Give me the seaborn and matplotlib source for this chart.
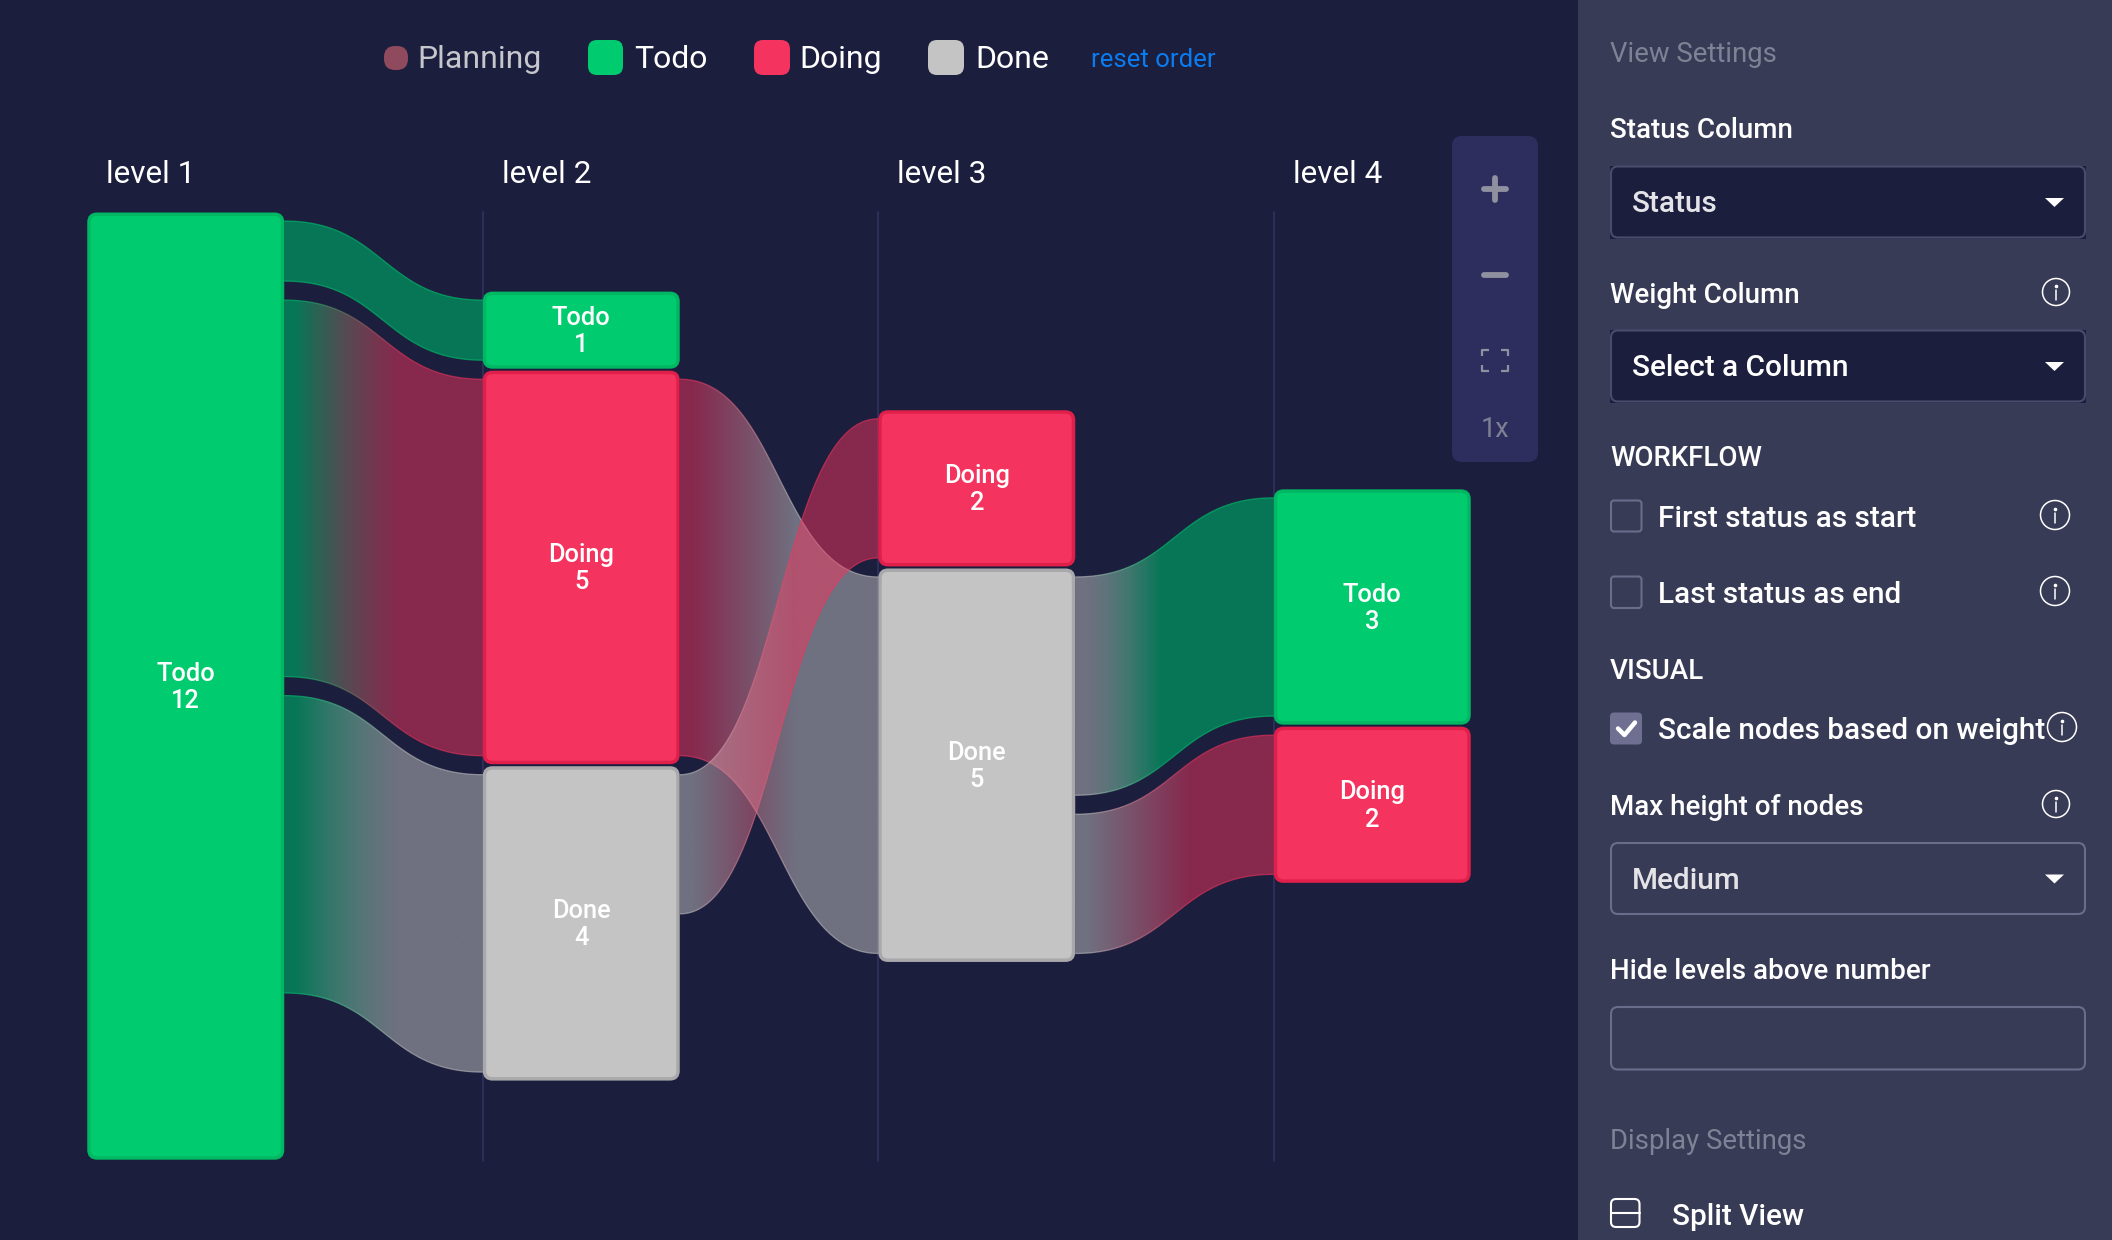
import numpy as np
import pandas as pd
import matplotlib
matplotlib.use("Agg")
import matplotlib.pyplot as plt
import seaborn as sns
from matplotlib.collections import LineCollection
from matplotlib.colors import to_rgb
from matplotlib.patches import FancyBboxPatch, PathPatch, Polygon, Rectangle, Circle
from matplotlib.path import Path

# chart values
LEVEL_NAMES = ["level 1", "level 2", "level 3", "level 4"]
LEVEL_OFFSET = [0, 1, 2.5, 3.5]
NODE_LEVEL = [1, 2, 2, 2, 3, 3, 4, 4]
NODE_STATUS = ["Todo", "Todo", "Doing", "Done", "Doing", "Done", "Todo", "Doing"]
NODE_VALUE = [12, 1, 5, 4, 2, 5, 3, 2]
LINK_SOURCE = [0, 0, 0, 2, 3, 5, 5]
LINK_TARGET = [1, 2, 3, 5, 4, 6, 7]
LINK_VALUE = [1, 5, 4, 5, 2, 3, 2]
LEGEND_ITEMS = ["Planning", "Todo", "Doing", "Done"]

STATUS_COLORS = {"Todo": "#00cc6f", "Doing": "#f4345e", "Done": "#c4c4c4"}
STATUS_EDGES = {"Todo": "#00b863", "Doing": "#e01f4a", "Done": "#a9a9ab"}
# link fill colour and opacity per status
LINK_RGB = {"Todo": (0, 149 / 255, 96 / 255), "Doing": to_rgb("#f4345e"), "Done": to_rgb("#c4c4c4")}
LINK_ALPHA = {"Todo": 0.75, "Doing": 0.5, "Done": 0.5}
GRAD_END = {"Todo": 0.43, "Doing": 0.58, "Done": 0.58}
BG = "#1c1e3d"
PANEL = "#383b55"

# pixel scale of the sankey
W, H = 2112, 1240
LEVEL_PX, UNIT_PX = 395.5, 79.1
X0_PX, Y0_PX = 185.75, 211.5
NODE_W = 197 / LEVEL_PX

sns.set_theme(style="dark")
plt.rcParams["font.family"] = ["Roboto", "DejaVu Sans"]

fig = plt.figure(figsize=(W / 100, H / 100), dpi=100, facecolor=BG)

# pixel axes for everything around the chart
ui = fig.add_axes([0, 0, 1, 1], facecolor=BG)
ui.set_xlim(0, W)
ui.set_ylim(H, 0)
ui.axis("off")

ax = fig.add_axes([0, 0, 1, 1], facecolor="none")
ax.set_zorder(2)


def ui_text(x, cy, s, px, color="white", ha="left", **kw):
    ui.text(x, cy + 0.355 * px, s, fontsize=px * 0.72, color=color, ha=ha, va="baseline", **kw)


def ui_box(x0, y0, x1, y1, r, fc, ec="none", lw=0):
    ui.add_patch(FancyBboxPatch((x0, y0), x1 - x0, y1 - y0, boxstyle=f"round,pad=0,rounding_size={r}",
                                fc=fc, ec=ec, lw=lw))


# nodes, stacked inside each level
nodes = pd.DataFrame({"level": NODE_LEVEL, "status": NODE_STATUS, "value": NODE_VALUE})
nodes["top"] = 0.0
for lvl, off in zip(range(1, 5), LEVEL_OFFSET):
    idx = nodes.index[nodes["level"] == lvl]
    nodes.loc[idx, "top"] = off + nodes.loc[idx, "value"].cumsum().shift(fill_value=0)

for _, row in nodes.iterrows():
    sns.barplot(x=[row["level"]], y=[row["value"]], bottom=row["top"], orient="x", native_scale=True,
                width=NODE_W, color=STATUS_COLORS[row["status"]], saturation=1, ax=ax, zorder=5)

xlim = (1 - X0_PX / LEVEL_PX, 1 + (W - X0_PX) / LEVEL_PX)
ylim = ((H - Y0_PX) / UNIT_PX, -Y0_PX / UNIT_PX)
ax.set_xlim(xlim)
ax.set_ylim(ylim)

# rounded corners and darker borders on the bars
inset_x, inset_y = 1.75 / LEVEL_PX, 2.75 / UNIT_PX
rad = 8 / LEVEL_PX
for bar, status in zip(list(ax.patches), NODE_STATUS):
    x, y, w, h = bar.get_x(), bar.get_y(), bar.get_width(), bar.get_height()
    ax.add_patch(FancyBboxPatch((x + inset_x, y + inset_y), w - 2 * inset_x, h - 2 * inset_y,
                                boxstyle=f"round,pad=0,rounding_size={rad}", mutation_aspect=LEVEL_PX / UNIT_PX,
                                fc=STATUS_COLORS[status], ec=STATUS_EDGES[status], lw=2.5, zorder=5))
    ax.text(x + w / 2, y + h / 2 + 1.2 / UNIT_PX, f"{status}\n{int(bar.get_height())}", color="white", ha="center",
            va="center", fontsize=18.3, fontweight="medium", linespacing=1.17, zorder=6)
    bar.remove()

# level lines
for lvl in [2, 3, 4]:
    xl = lvl - NODE_W / 2
    ax.plot([xl, xl], [0, 12], color="#30315f", lw=1.2, zorder=1)

# links, stacked inside their source and target nodes
PAD = 0.12
src_used = {i: 0.0 for i in range(len(NODE_VALUE))}
tgt_used = {i: 0.0 for i in range(len(NODE_VALUE))}
t = np.linspace(0, 1, 160)
for k, (s, d, v) in enumerate(zip(LINK_SOURCE, LINK_TARGET, LINK_VALUE)):
    x0 = NODE_LEVEL[s] + NODE_W / 2
    x1 = NODE_LEVEL[d] - NODE_W / 2
    y0 = nodes.loc[s, "top"] + src_used[s] + PAD
    y1 = nodes.loc[d, "top"] + tgt_used[d] + PAD
    src_used[s] += v
    tgt_used[d] += v
    th = v - 2 * PAD
    xm = (x0 + x1) / 2
    xs = (1 - t) ** 3 * x0 + 3 * (1 - t) ** 2 * t * xm + 3 * (1 - t) * t ** 2 * xm + t ** 3 * x1
    ys = y0 + (y1 - y0) * (3 * t ** 2 - 2 * t ** 3)
    poly = np.r_[np.c_[xs, ys], np.c_[xs[::-1], ys[::-1] + th]]

    s_name, d_name = NODE_STATUS[s], NODE_STATUS[d]
    c0, c1 = np.array(LINK_RGB[s_name]), np.array(LINK_RGB[d_name])
    a0, a1 = LINK_ALPHA[s_name], LINK_ALPHA[d_name]
    start, end = 0.06, GRAD_END[d_name]
    u = np.clip((np.linspace(0, 1, 256) - start) / (end - start), 0, 1)[:, None]
    rgba = np.c_[c0 * (1 - u) + c1 * u, a0 * (1 - u) + a1 * u][None, :, :]
    im = ax.imshow(rgba, extent=(x0, x1, max(y0, y1) + th + 0.1, min(y0, y1) - 0.1),
                   aspect="auto", interpolation="bilinear", zorder=2 + k * 0.1)
    clip = PathPatch(Path(poly, closed=False), transform=ax.transData, fc="none", ec="none")
    ax.add_patch(clip)
    im.set_clip_path(clip)

    # thin edges along both borders, same colour ramp
    e0, e1 = np.array(to_rgb(STATUS_COLORS[s_name])), np.array(to_rgb(STATUS_COLORS[d_name]))
    for off in (0, th):
        pts = np.c_[xs, ys + off]
        segs = np.stack([pts[:-1], pts[1:]], axis=1)
        ramp = np.clip(((xs[:-1] - x0) / (x1 - x0) - start) / (end - start), 0, 1)[:, None]
        cols = np.c_[e0 * (1 - ramp) + e1 * ramp, np.full(len(ramp), 0.6)]
        ax.add_collection(LineCollection(segs, colors=cols, linewidths=0.9, zorder=2.05 + k * 0.1))

ax.set_xlim(xlim)
ax.set_ylim(ylim)
ax.axis("off")

# level names
for name, lvl in zip(LEVEL_NAMES, range(1, 5)):
    ui_text(X0_PX + LEVEL_PX * (lvl - 1) - 98.5 + 19, 172, name, 31.5)

# legend on top
ui.add_patch(FancyBboxPatch((384, 46), 24, 24, boxstyle="round,pad=0,rounding_size=11", fc="#8f4a5e", ec="none"))
ui_box(588, 40, 623, 75, 9, STATUS_COLORS["Todo"])
ui_box(754, 40, 790, 75, 9, STATUS_COLORS["Doing"])
ui_box(928, 40, 964, 75, 9, STATUS_COLORS["Done"])
ui_text(417, 57, LEGEND_ITEMS[0], 32, color="#c6c7cc")
ui_text(634, 57, LEGEND_ITEMS[1], 32)
ui_text(799, 57, LEGEND_ITEMS[2], 32)
ui_text(975, 57, LEGEND_ITEMS[3], 32)
ui_text(1091, 58, "reset order", 25.7, color="#0a7cf0")

# zoom control
ui_box(1452, 136, 1538, 462, 10, "#2e2e5e")
ui.plot([1484, 1506], [188.5, 188.5], color="#8f90a0", lw=4.2, solid_capstyle="round")
ui.plot([1495, 1495], [177.5, 199.5], color="#8f90a0", lw=4.2, solid_capstyle="round")
ui.plot([1484, 1506], [274.5, 274.5], color="#8f90a0", lw=4.2, solid_capstyle="round")
for cx, sx in ((1482, 1), (1508, -1)):
    for cy, sy in ((350, 1), (371, -1)):
        ui.plot([cx + 7 * sx, cx, cx], [cy, cy, cy + 6 * sy], color="#8f90a0", lw=1.6, solid_capstyle="butt")
ui_text(1495, 427, "1x", 27, color="#7f8095", ha="center")

# settings panel
ui.add_patch(Rectangle((1578, 0), W - 1578, H, fc=PANEL, ec="none"))
MUTED = "#7f8195"
LABEL, ITEM = 27.7, 29.7
ui_text(1610, 52.5, "View Settings", 27.5, color=MUTED)
ui_text(1610, 128.5, "Status Column", LABEL, fontweight="medium")
ui_text(1610, 293, "Weight Column", LABEL, fontweight="medium")
ui_text(1610, 456.5, "WORKFLOW", LABEL, fontweight="medium")
ui_text(1658, 516, "First status as start", ITEM, fontweight="medium")
ui_text(1658, 592, "Last status as end", ITEM, fontweight="medium")
ui_text(1610, 669.5, "VISUAL", LABEL, fontweight="medium")
ui_text(1658, 728, "Scale nodes based on weight", ITEM, fontweight="medium")
ui_text(1610, 805, "Max height of nodes", LABEL, fontweight="medium")
ui_text(1610, 969, "Hide levels above number", LABEL, fontweight="medium")
ui_text(1610, 1139, "Display Settings", 27.5, color=MUTED)
ui_text(1672, 1214, "Split View", ITEM, fontweight="medium")

DROPS = [(166.5, 237.5, BG, "#4a4c6e", "Status", "#e4e4e8"),
         (330.5, 401.5, BG, "#4a4c6e", "Select a Column", "white"),
         (843, 914, PANEL, "#6a6c8c", "Medium", "#e4e4e8")]
for y0, y1, fc, ec, label, tc in DROPS:
    if fc == BG:
        ui.add_patch(Rectangle((1610, y0 - 1), 476, y1 - y0 + 2, fc=BG, ec="none"))
    ui_box(1611, y0, 2085, y1, 7, fc, ec, 1.5)
    cy = (y0 + y1) / 2
    ui_text(1632, cy - 0.5, label, ITEM, color=tc, fontweight="medium")
    ui.add_patch(Polygon([[2045, cy - 4], [2064, cy - 4], [2054.5, cy + 5]], fc="white", ec="none"))
ui_box(1611, 1007, 2085, 1069.5, 7, PANEL, "#6a6c8c", 1.5)

for cx, cy, r in ((2056, 292, 13.5), (2055, 515, 14.5), (2055, 591, 14.5), (2062, 727, 14.5), (2056, 804, 13.5)):
    ui.add_patch(Circle((cx, cy), r, fc="none", ec="white", lw=1.1))
    ui.plot([cx, cx], [cy - 2, cy + 8], color="white", lw=1.1)
    ui.plot([cx], [cy - 6.5], marker="o", ms=1.6, color="white")

for y0, y1 in ((500.5, 531.5), (576.5, 608)):
    ui_box(1611, y0, 1641.5, y1, 3, "none", "#6a6c8c", 1.5)
ui_box(1610, 712.5, 1642, 744.5, 4, "#6f7091")
ui.plot([1618, 1624.5, 1635], [728.5, 735, 722.5], color="white", lw=3.2, solid_joinstyle="round")

ui_box(1611, 1199, 1639.5, 1227, 5, "none", "white", 1.5)
ui.plot([1611, 1639.5], [1213, 1213], color="white", lw=1.5)

fig.savefig("out.png", dpi=100, facecolor=BG)
plt.close(fig)
